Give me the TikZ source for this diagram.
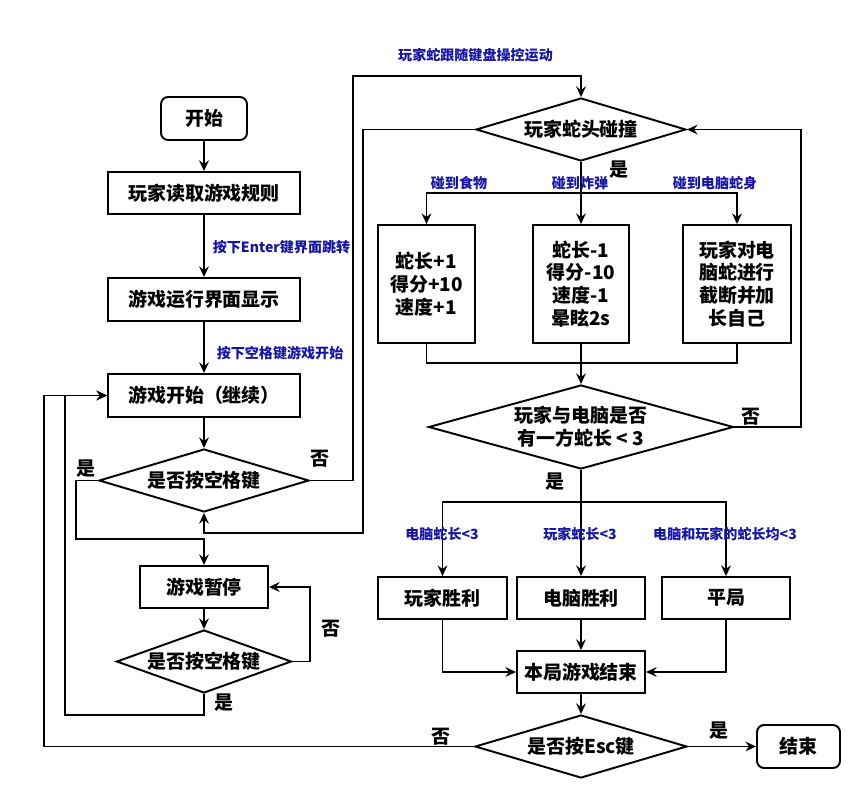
\documentclass[tikz,border=0pt]{standalone}
\usepackage{fontspec}
\setmainfont{Noto Sans CJK SC}
\usetikzlibrary{shapes.geometric,arrows.meta}
\definecolor{lblblue}{RGB}{20,20,170}

\begin{document}
\begin{tikzpicture}[x=0.02cm,y=-0.02cm,line width=1.1pt,
  >={Stealth[length=6pt,width=5.5pt,inset=2pt]},
  box/.style={draw,rectangle,inner sep=0pt,align=center,
    font=\bfseries\fontsize{10.8}{13}\selectfont},
  term/.style={box,rounded corners=4pt},
  dec/.style={draw,diamond,inner sep=0pt,aspect=3.3,align=center,
    font=\bfseries\fontsize{10.8}{13}\selectfont},
  lbl/.style={font=\bfseries\fontsize{8}{9.6}\selectfont,text=lblblue},
  yn/.style={font=\bfseries\fontsize{10.8}{13}\selectfont}]
\useasboundingbox (0,0) rectangle (865,801);

%left column
\node[term,minimum width=1.72cm,minimum height=0.86cm] (start) at (204,118.5) {开始};
\node[box,minimum width=3.84cm,minimum height=0.84cm] (rules) at (204,193) {玩家读取游戏规则};
\node[box,minimum width=3.84cm,minimum height=0.86cm] (run) at (204,299.5) {游戏运行界面显示};
\node[box,minimum width=3.84cm,minimum height=0.86cm] (play) at (204,395.5) {游戏开始（继续）};
\node[dec,minimum width=4.2cm,minimum height=1.26cm] (sp1) at (204,480.5) {是否按空格键};
\node[box,minimum width=2.56cm,minimum height=0.84cm] (pause) at (204,587) {游戏暂停};
\node[dec,minimum width=3.4cm,minimum height=1.26cm] (sp2) at (204,661.5) {是否按空格键};

%right column
\node[dec,minimum width=4.2cm,minimum height=1.26cm] (hit) at (581,129.5) {玩家蛇头碰撞};
\node[box,minimum width=1.94cm,minimum height=2.36cm] (food) at (426.5,284) {蛇长+1\\得分+10\\速度+1};
\node[box,minimum width=1.92cm,minimum height=2.36cm] (bomb) at (581,284) {蛇长-1\\得分-10\\速度-1\\晕眩2s};
\node[box,minimum width=2.16cm,minimum height=2.36cm] (body) at (737,284) {玩家对电\\脑蛇进行\\截断并加\\长自己};
\node[dec,minimum width=6.1cm,minimum height=1.68cm] (len) at (581,427) {玩家与电脑是否\\有一方蛇长 < 3};
\node[box,minimum width=2.58cm,minimum height=0.84cm] (win) at (442.5,598) {玩家胜利};
\node[box,minimum width=2.56cm,minimum height=0.84cm] (lose) at (581,598) {电脑胜利};
\node[box,minimum width=2.56cm,minimum height=0.84cm] (tie) at (726,598) {平局};
\node[box,minimum width=2.56cm,minimum height=0.84cm] (over) at (581,672) {本局游戏结束};
\node[dec,minimum width=4.24cm,minimum height=1.26cm] (esc) at (581,746.5) {是否按Esc键};
\node[term,minimum width=1.66cm,minimum height=0.86cm] (stop) at (798.5,746.5) {结束};

%corner points
\coordinate (hsplit) at (581,193);
\coordinate (hmerge) at (581,363);
\coordinate (lsplit) at (581,502);

%arrows left
\draw[->] (start) -- (rules);
\draw[->] (rules) -- (run);
\draw[->] (run) -- (play);
\draw[->] (play) -- (sp1);
\draw[->] (sp1.west) -- (76,480.5) -- (76,539) -| (pause.north);
\draw[->] (sp1.east) -- (353,480.5) -- (353,76) -| (hit.north);
\draw[->] (hit.west) -- (363,129.5) -- (363,533) -| (sp1.south);
\draw[->] (pause) -- (sp2);
\draw[->] (sp2.east) -- (310,661.5) |- (pause.east);
\draw[->] (sp2.south) -- (204,715) -- (65,715) |- (play.west);
\draw[->] (esc.west) -- (44,746.5) |- (play.west);

%arrows right
\draw[->] (hit.south) -- (bomb.north);
\draw[->] (hsplit) -| (food.north);
\draw[->] (hsplit) -| (body.north);
\draw (food.south) |- (hmerge);
\draw (body.south) |- (hmerge);
\draw[->] (bomb.south) -- (len.north);
\draw[->] (len.east) -- (801,427) |- (hit.east);
\draw[->] (len.south) -- (lose.north);
\draw[->] (lsplit) -| (win.north);
\draw[->] (lsplit) -| (tie.north);
\draw[->] (win.south) |- (over.west);
\draw[->] (tie.south) |- (over.east);
\draw[->] (lose) -- (over);
\draw[->] (over) -- (esc);
\draw[->] (esc) -- (stop);

%labels
\node[lbl,anchor=west] (lenter) at (206,247) {按下Enter键界面跳转};
\node[lbl,anchor=west] (lspace) at (210,353) {按下空格键游戏开始};
\node[lbl] (lmove) at (475.5,55) {玩家蛇跟随键盘操控运动};
\node[lbl] (lfood) at (459,183) {碰到食物};
\node[lbl] (lbomb) at (580,183) {碰到炸弹};
\node[lbl] (lbody) at (715,183) {碰到电脑蛇身};
\node[lbl] (lcwin) at (442,534) {电脑蛇长<3};
\node[lbl] (lpwin) at (580,534) {玩家蛇长<3};
\node[lbl] (ltie) at (725,534) {电脑和玩家的蛇长均<3};
\node[yn] (y0) at (619,170) {是};
\node[yn] (n1) at (320,459) {否};
\node[yn] (y1) at (86,469) {是};
\node[yn] (n2) at (331,629) {否};
\node[yn] (y2) at (224,703) {是};
\node[yn] (n3) at (751,417) {否};
\node[yn] (y3) at (555,482) {是};
\node[yn] (n4) at (441,737) {否};
\node[yn] (y4) at (719,731) {是};
\end{tikzpicture}
\end{document}
